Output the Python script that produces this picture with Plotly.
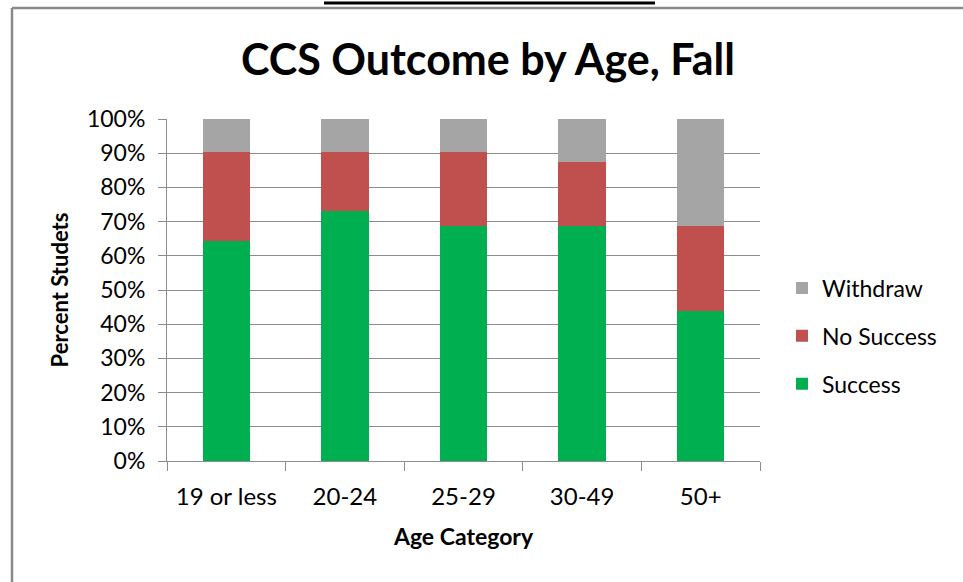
import plotly.graph_objects as go

# Age categories and outcome shares (percent of students)
categories = ["19 or less", "20-24", "25-29", "30-49", "50+"]
success = [64.2, 73.1, 68.7, 68.7, 43.9]
no_success = [26.1, 17.2, 21.6, 18.7, 24.8]
withdraw = [9.7, 9.7, 9.7, 12.6, 31.3]
y_ticks = [0, 10, 20, 30, 40, 50, 60, 70, 80, 90, 100]
y_tick_labels = [f"{v}%" for v in y_ticks]

FONT = "Lato"
W, H = 963, 582
ML, MR, MT, MB = 167, 203, 119, 121
PW, PH = W - ML - MR, H - MT - MB


def px_x(px):
    return (px - ML) / PW


def px_y(py):
    return (H - MB - py) / PH


# (name, values, colour, legend rank) - legend lists the top segment first
series = [
    ("Success", success, "#00B050", 3),
    ("No Success", no_success, "#C0504D", 2),
    ("Withdraw", withdraw, "#A5A5A5", 1),
]

fig = go.Figure()
for name, vals, color, rank in series:
    fig.add_trace(go.Bar(
        x=categories, y=vals, name=name, legendgroup=name, legendrank=rank,
        marker=dict(color=color, line=dict(width=0)),
    ))

fig.update_layout(
    width=W, height=H,
    margin=dict(l=ML, r=MR, t=MT, b=MB),
    barmode="stack", bargap=0.6,
    plot_bgcolor="white", paper_bgcolor="white",
    font=dict(family=FONT, color="#000000"),
    title=dict(
        text="<b>CCS Outcome by Age, Fall</b>",
        font=dict(family=FONT, size=43, color="#000000"),
        x=488 / W, xanchor="center",
        y=1 - 60 / H, yanchor="middle", yref="container",
    ),
    legend=dict(
        x=px_x(782), xanchor="left", y=px_y(336), yanchor="middle",
        traceorder="grouped", tracegroupgap=15,
        font=dict(family=FONT, size=23, color="#000000"),
        bgcolor="rgba(0,0,0,0)",
    ),
    showlegend=True,
)

fig.update_yaxes(
    range=[0, 100], tickvals=y_ticks, ticktext=y_tick_labels,
    showgrid=True, gridcolor="#8c8c8c", gridwidth=1,
    showline=True, linecolor="#8c8c8c", linewidth=1,
    ticks="outside", ticklen=8, tickcolor="#8c8c8c",
    tickfont=dict(family=FONT, size=23, color="#000000"),
    ticklabelstandoff=8,
    title=dict(text="<b>Percent Studets</b>", standoff=12,
               font=dict(family=FONT, size=22, color="#000000")),
    zeroline=False,
)

fig.update_xaxes(
    showline=True, linecolor="#8c8c8c", linewidth=1,
    ticks="outside", ticklen=9, tickcolor="#8c8c8c", tickson="boundaries",
    tickfont=dict(family=FONT, size=24, color="#000000"),
    ticklabelstandoff=14,
    title=dict(text="<b>Age Category</b>", standoff=20,
               font=dict(family=FONT, size=23, color="#000000")),
    showgrid=False,
)

# Outer chart frame (left and top edges) and the heading underline above it
fig.add_shape(type="line", xref="paper", yref="paper",
              x0=px_x(12), x1=px_x(12), y0=px_y(8), y1=px_y(590),
              line=dict(color="#8a8a8a", width=2.5))
fig.add_shape(type="line", xref="paper", yref="paper",
              x0=px_x(12), x1=px_x(970), y0=px_y(8), y1=px_y(8),
              line=dict(color="#8a8a8a", width=2.5))
fig.add_shape(type="line", xref="paper", yref="paper",
              x0=px_x(324), x1=px_x(655), y0=px_y(3), y1=px_y(3),
              line=dict(color="#000000", width=3))

fig.write_html("out.html")
